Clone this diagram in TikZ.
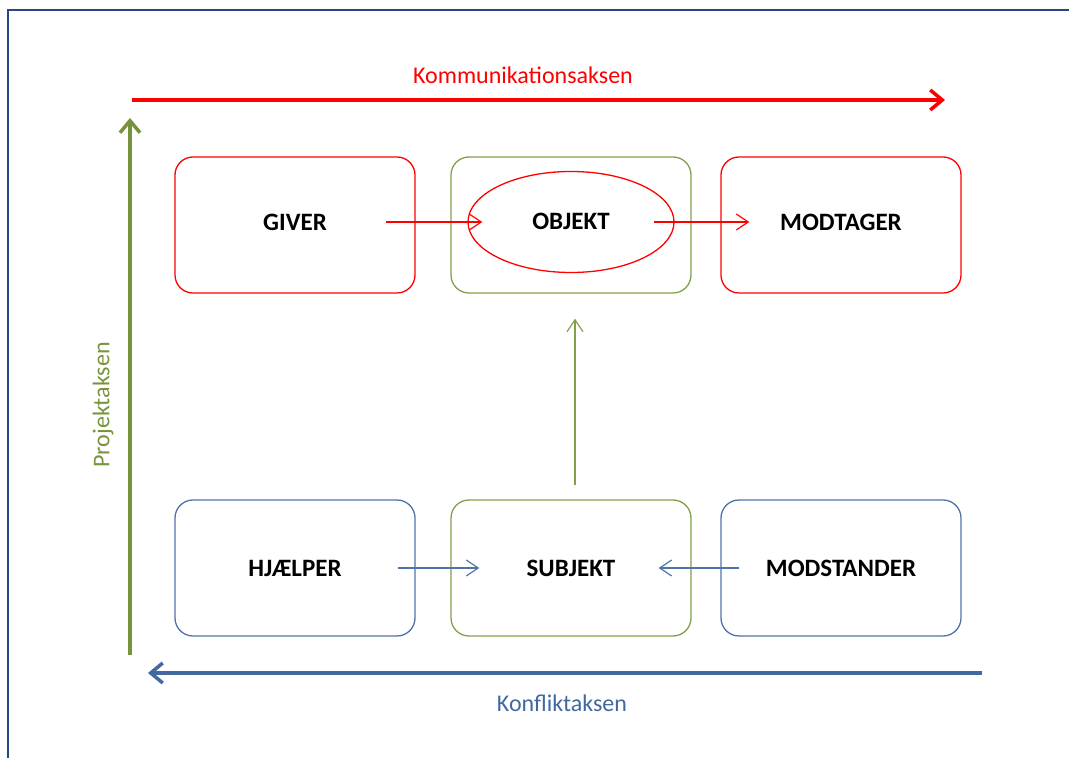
\documentclass[tikz,border=0pt]{standalone}
\usepackage{fontspec}
\setmainfont{Carlito}
\usepackage{tikz}
\usetikzlibrary{arrows.meta,shapes.geometric}

\definecolor{kommrod}{RGB}{255,0,0}
\definecolor{projgron}{RGB}{119,147,60}
\definecolor{boksgron}{RGB}{130,160,75}
\definecolor{konfblaa}{RGB}{65,105,160}
\definecolor{boksblaa}{RGB}{80,115,170}
\definecolor{rammeblaa}{RGB}{40,70,130}

\tikzset{
    boks/.style={draw,line width=1.3pt,rounded corners=18pt,minimum width=240pt,minimum height=136pt,
        font=\fontsize{25}{30}\selectfont\bfseries},
    aksetekst/.style={font=\fontsize{24}{28}\selectfont},
    akse/.style={line width=3.5pt,-{Straight Barb[length=12pt,width=20pt]}},
    pil/.style={line width=1.2pt,-{Straight Barb[length=12pt,width=16pt]}}
}

\begin{document}
\begin{tikzpicture}[x=1pt,y=1pt]
        \useasboundingbox (0,0) rectangle (1069,758);
        \draw[rammeblaa,line width=1.5pt] (1069,748)--(8,748)--(8,0);

        % akserne
        \draw[akse,kommrod] (132,658)--(945,658);
        \node[aksetekst,text=kommrod] (komm) at (523,683) {Kommunikationsaksen};
        \draw[akse,projgron] (130,103)--(130,640);
        \node[aksetekst,text=projgron,rotate=90] (proj) at (103,353) {Projektaksen};
        \draw[akse,konfblaa] (982,85)--(148,85);
        \node[aksetekst,text=konfblaa] (konf) at (562,55) {Konfliktaksen};

        \node[boks,draw=kommrod] (giver) at (295,533) {\raisebox{5pt}{GIVER}};
        \node[boks,draw=boksgron] (objektboks) at (571,533) {};
        \node[draw=kommrod,line width=1.3pt,ellipse,minimum width=206pt,minimum height=101pt,
            font=\fontsize{25}{30}\selectfont\bfseries] (objekt) at (571,536) {\raisebox{2pt}{OBJEKT}};
        \node[boks,draw=kommrod] (modtager) at (841,533) {\raisebox{5pt}{MODTAGER}};

        \node[boks,draw=boksblaa] (hjaelper) at (295,190) {HJÆLPER};
        \node[boks,draw=boksgron] (subjekt) at (571,190) {SUBJEKT};
        \node[boks,draw=boksblaa] (modstander) at (841,190) {MODSTANDER};

        \draw[pil,kommrod] ([shift={(-30,3)}]giver.east)--([xshift=15]objekt.west);
        \draw[pil,kommrod] ([xshift=-21]objekt.east)--([shift={(29,3)}]modtager.west);
        \draw[pil,boksgron] ([shift={(4,14)}]subjekt.north)--([shift={(4,-25)}]objektboks.south);
        \draw[pil,boksblaa] ([xshift=-18]hjaelper.east)--([xshift=29]subjekt.west);
        \draw[pil,boksblaa] ([xshift=19]modstander.west)--([xshift=-33]subjekt.east);

    \end{tikzpicture}
\end{document}
